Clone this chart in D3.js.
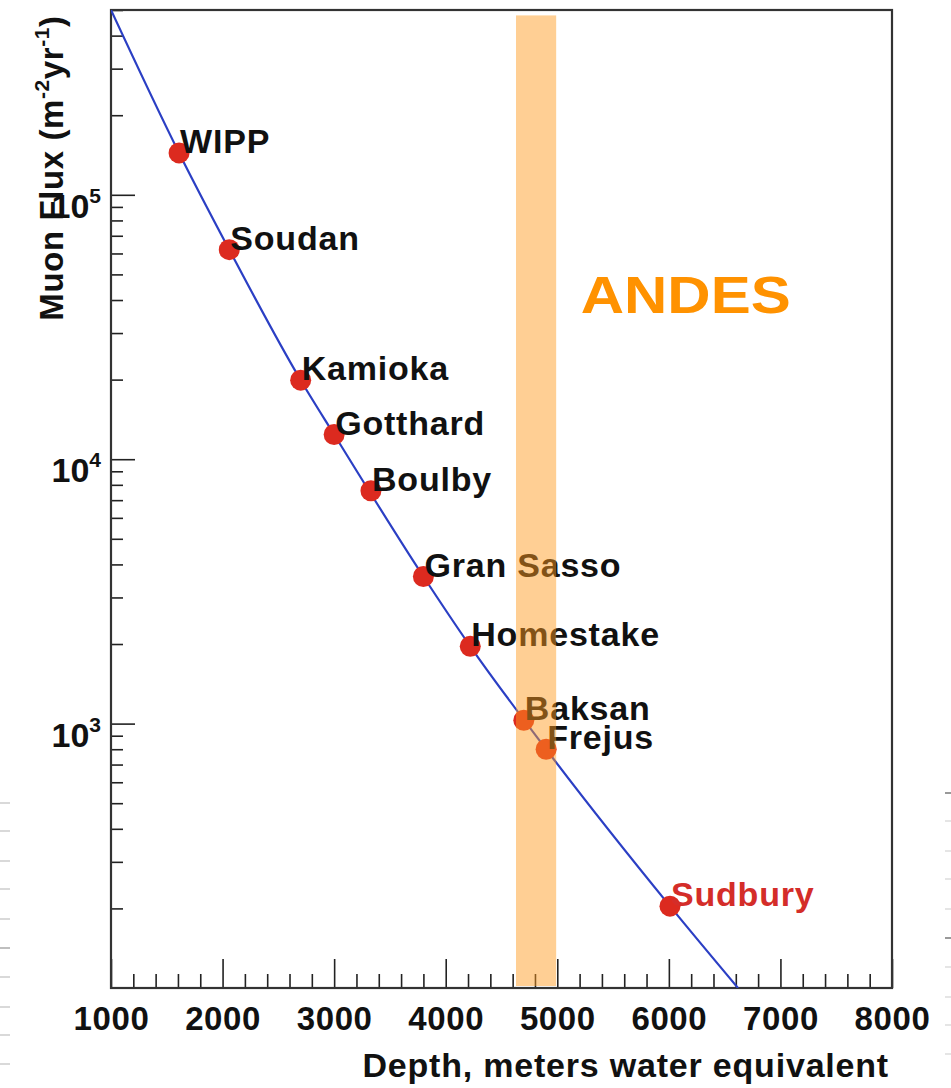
<!DOCTYPE html>
<html>
<head>
<meta charset="utf-8">
<script src="https://cdn.jsdelivr.net/npm/d3@7"></script>
<style>
  body { margin: 0; background: #fff; }
  svg { display: block; }
  text { font-family: "Liberation Sans", Arial, Helvetica, sans-serif; font-weight: bold; }
</style>
</head>
<body>
<svg id="chart" width="951" height="1088"></svg>
<script>
// labs: depth (m.w.e.) and muon flux (m^-2 yr^-1)
var labs = ["WIPP", "Soudan", "Kamioka", "Gotthard", "Boulby", "Gran Sasso", "Homestake", "Baksan", "Frejus", "Sudbury"];
var labDepth = [1610, 2060, 2700, 3000, 3330, 3800, 4220, 4700, 4900, 6010];
var labFlux = [1.44e5, 6.2e4, 1.99e4, 1.24e4, 7.6e3, 3.6e3, 1.96e3, 1.03e3, 800, 204];

// fitted curve
var fitDepth = [1000, 1610, 2060, 2700, 3000, 3800, 4220, 4900, 6010, 6620];
var fitFlux = [5e5, 1.44e5, 6.2e4, 1.99e4, 1.24e4, 3.6e3, 1.96e3, 800, 204, 100];

// ANDES depth range
var andesRange = [4630, 4990];

var xMajor = [1000, 2000, 3000, 4000, 5000, 6000, 7000, 8000];
var yMajor = [1e3, 1e4, 1e5];

var margin = {left: 111, top: 10, right: 59, bottom: 100};
var W = 951, H = 1088;

var svg = d3.select("#chart");

var x = d3.scaleLinear().domain([1000, 8000]).range([margin.left, W - margin.right]);
var y = d3.scaleLog().domain([100, 5e5]).range([H - margin.bottom, margin.top]);

var x0 = x.range()[0], x1 = x.range()[1];
var yb = y.range()[0], yt = y.range()[1];

// page residue at the edges
var residueY = [803, 831, 861, 889, 919, 948, 977, 1007, 1035, 1064];
svg.append("g").selectAll("line").data(residueY).enter().append("line")
    .attr("x1", 0).attr("x2", 10).attr("y1", d => d).attr("y2", d => d)
    .attr("stroke", (d, i) => i == 5 ? "#aaa" : "#ccc").attr("stroke-width", 1.5);
svg.append("g").selectAll("line").data(residueY).enter().append("line")
    .attr("x1", 945).attr("x2", 951).attr("y1", d => d - 10).attr("y2", d => d - 10)
    .attr("stroke", (d, i) => (i == 0 || i == 5) ? "#777" : "#ddd").attr("stroke-width", 1.5);

// minor ticks
var xMinor = d3.range(1000, 8001, 200).filter(d => d % 1000 != 0);
var yMinor = [];
[100, 1000, 10000, 100000].forEach(function (dec) {
    for (var k = 2; k <= 9; k++) {
        if (dec * k <= 5e5) yMinor.push(dec * k);
    }
});

var gx = svg.append("g").attr("transform", "translate(0," + yb + ")");
gx.append("g").call(d3.axisBottom(x).tickValues(xMinor).tickSize(-14).tickFormat(""));
gx.append("g").call(d3.axisBottom(x).tickValues(xMajor).tickSize(-29).tickPadding(19).tickFormat(d3.format("d")));
gx.selectAll(".domain").remove();
gx.selectAll("line").attr("stroke", "#222").attr("stroke-width", 1.6);
gx.selectAll("text").attr("font-size", 33).attr("fill", "#111")
    .attr("letter-spacing", 0.6)
    .attr("font-family", "'Liberation Sans', Arial, sans-serif").attr("font-weight", "bold");

var gy = svg.append("g").attr("transform", "translate(" + x0 + ",0)");
gy.append("g").call(d3.axisLeft(y).tickValues(yMinor).tickSize(-12).tickFormat(""));
gy.append("g").call(d3.axisLeft(y).tickValues(yMajor).tickSize(-24).tickFormat(""));
gy.selectAll(".domain").remove();
gy.selectAll("line").attr("stroke", "#222").attr("stroke-width", 1.6);

// y tick labels: 10^n
var ylab = svg.append("g").selectAll("text").data(yMajor).enter().append("text")
    .attr("x", x0 - 10)
    .attr("y", d => y(d) + 23)
    .attr("text-anchor", "end")
    .attr("fill", "#111");
ylab.append("tspan").attr("font-size", 34).text("10");
ylab.append("tspan").attr("font-size", 21).attr("dy", -15).text(d => Math.round(Math.log10(d)));

// frame
svg.append("rect")
    .attr("x", x0).attr("y", yt)
    .attr("width", x1 - x0).attr("height", yb - yt)
    .attr("fill", "none").attr("stroke", "#333").attr("stroke-width", 2.2);

// fit line
svg.append("clipPath").attr("id", "plotclip").append("rect")
    .attr("x", x0).attr("y", yt).attr("width", x1 - x0).attr("height", yb - yt);

var fitData = fitDepth.map((d, i) => ({d: d, f: fitFlux[i]}));
var line = d3.line().x(p => x(p.d)).y(p => y(p.f)).curve(d3.curveMonotoneX);
svg.append("path")
    .datum(fitData)
    .attr("clip-path", "url(#plotclip)")
    .attr("d", line)
    .attr("fill", "none")
    .attr("stroke", "#2b3fc4")
    .attr("stroke-width", 2.2);

// lab points and names
var labData = labs.map((n, i) => ({name: n, d: labDepth[i], f: labFlux[i]}));
svg.append("g").selectAll("circle").data(labData).enter().append("circle")
    .attr("cx", p => x(p.d)).attr("cy", p => y(p.f))
    .attr("r", 10.5)
    .attr("fill", "#dc2a1f");

svg.append("g").selectAll("text").data(labData).enter().append("text")
    .attr("x", p => x(p.d) + 1)
    .attr("y", p => y(p.f))
    .attr("font-size", 34)
    .attr("letter-spacing", 0.8)
    .attr("fill", p => p.name == "Sudbury" ? "#d42d29" : "#111")
    .text(p => p.name);

// ANDES band (translucent, on top)
svg.append("rect")
    .attr("x", x(andesRange[0]))
    .attr("width", x(andesRange[1]) - x(andesRange[0]))
    .attr("y", y(4.77e5))
    .attr("height", y(100) - 2 - y(4.77e5))
    .attr("fill", "#ff9a1f")
    .attr("opacity", 0.48);

svg.append("text")
    .attr("x", x(5210))
    .attr("y", y(3.56e4))
    .attr("font-family", "Lato, 'Open Sans', sans-serif")
    .attr("font-weight", "bold")
    .attr("font-size", 51)
    .attr("textLength", 210)
    .attr("lengthAdjust", "spacingAndGlyphs")
    .attr("fill", "#ff9200")
    .text("ANDES");

// axis titles
svg.append("text")
    .attr("x", x1 - 3)
    .attr("y", 1077)
    .attr("text-anchor", "end")
    .attr("font-size", 34)
    .attr("letter-spacing", 0.8)
    .attr("fill", "#111")
    .text("Depth, meters water equivalent");

var yt2 = svg.append("text")
    .attr("transform", "translate(63," + 168 + ") rotate(-90)")
    .attr("text-anchor", "middle")
    .attr("font-size", 33)
    .attr("letter-spacing", 0.6)
    .attr("fill", "#111");
yt2.append("tspan").text("Muon Flux (m");
yt2.append("tspan").attr("font-size", 21).attr("dy", -14).text("-2");
yt2.append("tspan").attr("dy", 14).text("yr");
yt2.append("tspan").attr("font-size", 21).attr("dy", -14).text("-1");
yt2.append("tspan").attr("dy", 14).text(")");
</script>
</body>
</html>
